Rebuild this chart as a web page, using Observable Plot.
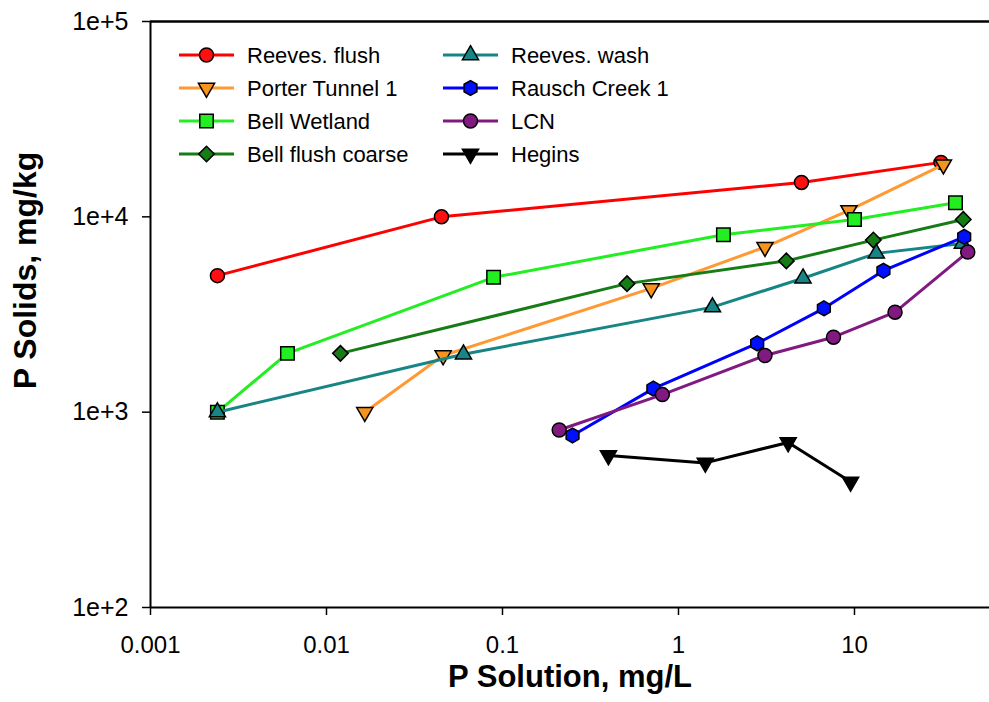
<!DOCTYPE html>
<html>
<head>
<meta charset="utf-8">
<script src="https://cdn.jsdelivr.net/npm/d3@7"></script>
<script src="https://cdn.jsdelivr.net/npm/@observablehq/plot@0.6"></script>
<style>
  body { margin: 0; background: #fff; }
  #chart svg { display: block; }
</style>
</head>
<body>
<div id="chart"></div>
<script>
// ---- data ----
const seriesNames = ["Reeves. flush", "Porter Tunnel 1", "Bell Wetland", "Bell flush coarse",
                     "Reeves. wash", "Rausch Creek 1", "LCN", "Hegins"];

const reevesFlushX = [0.0024, 0.045, 5.0, 31];
const reevesFlushY = [5000, 10000, 15000, 19000];

const porterTunnelX = [0.0165, 0.046, 0.70, 3.1, 9.3, 32];
const porterTunnelY = [1000, 1950, 4300, 7000, 10800, 18500];

const bellWetlandX = [0.0024, 0.006, 0.089, 1.8, 10.0, 37.5];
const bellWetlandY = [1000, 2000, 4900, 8100, 9700, 11800];

const bellFlushCoarseX = [0.012, 0.51, 4.1, 12.8, 41.5];
const bellFlushCoarseY = [2000, 4550, 5950, 7600, 9700];

const reevesWashX = [0.0024, 0.060, 1.56, 5.1, 13.3, 41];
const reevesWashY = [1000, 1980, 3450, 4850, 6500, 7300];

const rauschCreekX = [0.25, 0.72, 2.8, 6.7, 14.6, 42];
const rauschCreekY = [760, 1320, 2250, 3400, 5300, 7900];

const lcnX = [0.21, 0.81, 3.1, 7.6, 17, 44];
const lcnY = [810, 1230, 1950, 2420, 3250, 6600];

const heginsX = [0.40, 1.42, 4.2, 9.5];
const heginsY = [600, 550, 700, 440];

const xTicks = [0.001, 0.01, 0.1, 1, 10];
const xTickLabels = ["0.001", "0.01", "0.1", "1", "10"];
const yTicks = [100, 1000, 10000, 100000];
const yTickLabels = ["1e+2", "1e+3", "1e+4", "1e+5"];

// ---- styles ----
const SQ3 = Math.sqrt(3);
const triangleDown = {
  draw(context, size) {
    const y = Math.sqrt(size / (SQ3 * 3));
    context.moveTo(0, y * 2);
    context.lineTo(-SQ3 * y, -y);
    context.lineTo(SQ3 * y, -y);
    context.closePath();
  }
};
const hexagon = {
  draw(context, size) {
    const rx = Math.sqrt(size / Math.PI), hx = rx * SQ3 / 2;
    context.moveTo(0, rx);
    context.lineTo(hx, rx / 2);
    context.lineTo(hx, -rx / 2);
    context.lineTo(0, -rx);
    context.lineTo(-hx, -rx / 2);
    context.lineTo(-hx, rx / 2);
    context.closePath();
  }
};
const symbolTypes = {
  circle: d3.symbolCircle, triangle: d3.symbolTriangle, square: d3.symbolSquare,
  diamond2: d3.symbolDiamond2, hexagon: hexagon, triangleDown: triangleDown
};
const styles = [
  {line: "#ff0000", fill: "#ff1010", symbol: "circle", r: 7},
  {line: "#ff9933", fill: "#f7941d", symbol: "triangleDown", r: 6},
  {line: "#22ee22", fill: "#22ee22", symbol: "square", r: 7.6},
  {line: "#167d16", fill: "#167d16", symbol: "diamond2", r: 7},
  {line: "#178585", fill: "#178585", symbol: "triangle", r: 6},
  {line: "#0000ff", fill: "#0010ff", symbol: "hexagon", r: 7.4},
  {line: "#801a80", fill: "#801a80", symbol: "circle", r: 7},
  {line: "#000000", fill: "#000000", symbol: "triangleDown", r: 6}
];

const xs = [reevesFlushX, porterTunnelX, bellWetlandX, bellFlushCoarseX, reevesWashX, rauschCreekX, lcnX, heginsX];
const ys = [reevesFlushY, porterTunnelY, bellWetlandY, bellFlushCoarseY, reevesWashY, rauschCreekY, lcnY, heginsY];

const series = seriesNames.map((name, i) => ({
  name, ...styles[i],
  data: xs[i].map((x, j) => ({x, y: ys[i][j]}))
}));

const FONT = "'Liberation Sans', Arial, sans-serif";

// legend drawn inside the frame
function legendMark() {
  const g = d3.create("svg:g").attr("font-family", FONT).attr("font-size", 22)
    .attr("fill", "#000").attr("text-anchor", "start");
  series.forEach((s, i) => {
    const col = Math.floor(i / 4), row = i % 4;
    const x0 = col ? 443 : 179, y0 = 55 + row * 33;
    g.append("line").attr("x1", x0).attr("x2", x0 + 55).attr("y1", y0).attr("y2", y0)
      .attr("stroke", s.line).attr("stroke-width", 3);
    g.append("path").attr("d", d3.symbol(symbolTypes[s.symbol], s.r * s.r * Math.PI)())
      .attr("transform", `translate(${x0 + 27.5},${y0})`)
      .attr("fill", s.fill).attr("stroke", "#000").attr("stroke-width", 1.5);
    g.append("text").attr("x", x0 + 68).attr("y", y0).attr("dy", "0.35em")
      .attr("text-anchor", "start").text(s.name);
  });
  return g.node();
}

const marks = [];
for (const s of series) {
  marks.push(Plot.line(s.data, {x: "x", y: "y", stroke: s.line, strokeWidth: 3}));
  marks.push(Plot.dot(s.data, {x: "x", y: "y", symbol: symbolTypes[s.symbol], r: s.r, fill: s.fill, stroke: "#000", strokeWidth: 1.5}));
}

const chart = Plot.plot({
  width: 989,
  height: 702,
  marginTop: 21,
  marginRight: 0,
  marginBottom: 95,
  marginLeft: 150,
  style: {fontFamily: FONT, fontSize: "25px", color: "#000", background: "#fff"},
  x: {type: "log", domain: [0.001, 58.5]},
  y: {type: "log", domain: [100, 100000]},
  marks: [
    Plot.ruleY([100000], {stroke: "#000", strokeWidth: 2.5}),
    Plot.ruleY([100], {stroke: "#000", strokeWidth: 2}),
    Plot.ruleX([0.001], {stroke: "#000", strokeWidth: 2}),
    Plot.axisX({ticks: xTicks, tickFormat: d => xTickLabels[xTicks.indexOf(d)], tickSize: 8, tickPadding: 20, label: null, strokeWidth: 1.5, fontSize: 24}),
    Plot.axisY({ticks: yTicks, tickFormat: d => yTickLabels[yTicks.indexOf(d)], tickSize: 8, tickPadding: 14, label: null, strokeWidth: 1.5, fontSize: 25}),
    ...marks,
    legendMark,
    Plot.text(["P Solution, mg/L"], {frameAnchor: "bottom", dy: 70, fontSize: 31, fontWeight: "bold", lineAnchor: "middle", textAnchor: "middle"}),
    Plot.text(["P Solids, mg/kg"], {frameAnchor: "left", dx: -125, dy: -44, rotate: -90, fontSize: 32, fontWeight: "bold", lineAnchor: "middle", textAnchor: "middle"})
  ]
});
document.getElementById("chart").appendChild(chart);
</script>
</body>
</html>
